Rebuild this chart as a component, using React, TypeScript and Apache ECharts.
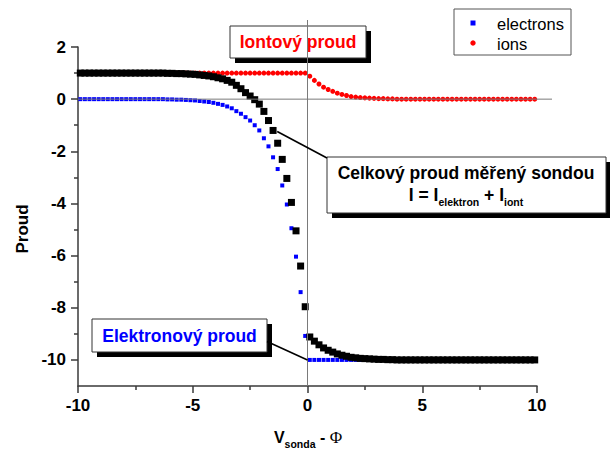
import React, { useEffect, useRef } from "react";
import * as echarts from "echarts";

// probe voltage samples (V_sonda - Φ)
const xValues: number[] = [
  -9.9, -9.7, -9.5, -9.3, -9.1, -8.9, -8.7, -8.5, -8.3, -8.1,
  -7.9, -7.7, -7.5, -7.3, -7.1, -6.9, -6.7, -6.5, -6.3, -6.1,
  -5.9, -5.7, -5.5, -5.3, -5.1, -4.9, -4.7, -4.5, -4.3, -4.1,
  -3.9, -3.7, -3.5, -3.3, -3.1, -2.9, -2.7, -2.5, -2.3, -2.1,
  -1.9, -1.7, -1.5, -1.3, -1.1, -0.9, -0.7, -0.5, -0.3, -0.1,
  0.1, 0.3, 0.5, 0.7, 0.9, 1.1, 1.3, 1.5, 1.7, 1.9,
  2.1, 2.3, 2.5, 2.7, 2.9, 3.1, 3.3, 3.5, 3.7, 3.9,
  4.1, 4.3, 4.5, 4.7, 4.9, 5.1, 5.3, 5.5, 5.7, 5.9,
  6.1, 6.3, 6.5, 6.7, 6.9, 7.1, 7.3, 7.5, 7.7, 7.9,
  8.1, 8.3, 8.5, 8.7, 8.9, 9.1, 9.3, 9.5, 9.7, 9.9,
];

const electrons: number[] = [
  0, 0, 0, 0, 0, 0, 0, 0, 0, 0,
  0, 0, 0, 0, 0, 0, 0, 0, 0, -0.01,
  -0.01, -0.02, -0.02, -0.03, -0.04, -0.05, -0.07, -0.09, -0.11, -0.14,
  -0.18, -0.22, -0.28, -0.35, -0.46, -0.56, -0.69, -0.82, -1.0, -1.2,
  -1.5, -1.81, -2.23, -2.68, -3.31, -4.04, -4.95, -6.04, -7.4, -9.08,
  -10, -10, -10, -10, -10, -10, -10, -10, -10, -10,
  -10, -10, -10, -10, -10, -10, -10, -10, -10, -10,
  -10, -10, -10, -10, -10, -10, -10, -10, -10, -10,
  -10, -10, -10, -10, -10, -10, -10, -10, -10, -10,
  -10, -10, -10, -10, -10, -10, -10, -10, -10, -10,
];

const ions: number[] = [
  1, 1, 1, 1, 1, 1, 1, 1, 1, 1,
  1, 1, 1, 1, 1, 1, 1, 1, 1, 1,
  1, 1, 1, 1, 1, 1, 1, 1, 1, 1,
  1, 1, 1, 1, 1, 1, 1, 1, 1, 1,
  1, 1, 1, 1, 1, 1, 1, 1, 1, 1,
  0.88, 0.72, 0.58, 0.46, 0.37, 0.3, 0.23, 0.18, 0.14, 0.1,
  0.08, 0.06, 0.05, 0.04, 0.03, 0.02, 0.02, 0.01, 0.01, 0,
  0, 0, 0, 0, 0, 0, 0, 0, 0, 0,
  0, 0, 0, 0, 0, 0, 0, 0, 0, 0,
  0, 0, 0, 0, 0, 0, 0, 0, 0, 0,
];

const total: number[] = [
  1, 1, 1, 1, 1, 1, 1, 1, 1, 1,
  1, 1, 1, 1, 1, 1, 1, 1, 1, 0.99,
  0.99, 0.98, 0.98, 0.97, 0.96, 0.95, 0.93, 0.91, 0.89, 0.86,
  0.82, 0.78, 0.72, 0.65, 0.53, 0.4, 0.25, 0.12, -0.02, -0.19,
  -0.47, -0.82, -1.2, -1.69, -2.31, -3.04, -3.96, -5.05, -6.4, -7.96,
  -9.12, -9.28, -9.42, -9.54, -9.63, -9.7, -9.77, -9.82, -9.86, -9.9,
  -9.92, -9.94, -9.95, -9.96, -9.97, -9.98, -9.98, -9.99, -9.99, -10,
  -10, -10, -10, -10, -10, -10, -10, -10, -10, -10,
  -10, -10, -10, -10, -10, -10, -10, -10, -10, -10,
  -10, -10, -10, -10, -10, -10, -10, -10, -10, -10,
];

const seriesNames = ["electrons", "ions", "total"];
const yMajorTicks = [-10, -8, -6, -4, -2, 0, 2];
const yMinorTicks = [-9, -7, -5, -3, -1, 1];
const labelIon = "Iontový proud";
const labelElectron = "Elektronový proud";
const labelTotal = "Celkový proud měřený sondou";
const yTitle = "Proud";

const FONT = "'Liberation Sans', Arial, Helvetica, sans-serif";
const AXIS = "#3a3a3a";

function boxWithShadow(x: number, y: number, w: number, h: number, off: number) {
  return [
    { type: "rect", shape: { x: x + off, y: y + off, width: w, height: h }, style: { fill: "#000" } },
    { type: "rect", shape: { x, y, width: w, height: h }, style: { fill: "#fff", stroke: "#333", lineWidth: 1 } },
  ];
}

function txt(x: number, y: number, text: string, extra: any) {
  return {
    type: "text",
    x,
    y,
    style: Object.assign(
      {
        text,
        fontFamily: FONT,
        align: "center",
        verticalAlign: "middle",
        textAlign: "center",
        textVerticalAlign: "middle",
      },
      extra
    ),
  };
}

export default function App() {
  const ref = useRef<HTMLDivElement>(null);
  useEffect(() => {
    const chart = echarts.init(ref.current!, null, { renderer: "svg" });
    const pair = (ys: number[]) => xValues.map((x, i) => [x, ys[i]]);
    const lineStyle = { color: AXIS, width: 1.5 };
    chart.setOption({
      animation: false,
      backgroundColor: "#fff",
      grid: { left: 78, right: 73, top: 47, bottom: 63, outerBoundsMode: "none" },
      xAxis: {
        type: "value",
        min: -10,
        max: 10,
        interval: 5,
        axisLine: { show: true, onZero: false, lineStyle },
        axisTick: { show: true, length: 7, lineStyle },
        minorTick: { show: true, splitNumber: 2, length: 4, lineStyle },
        splitLine: { show: false },
        axisLabel: { color: "#000", fontSize: 17, fontWeight: "bold", fontFamily: FONT, margin: 11 },
      },
      yAxis: [
        {
          type: "value",
          min: -11,
          max: 2,
          interval: 1,
          position: "left",
          axisLine: { show: true, onZero: false, lineStyle },
          axisTick: { show: true, length: 7, lineStyle, customValues: yMajorTicks },
          splitLine: { show: false },
          axisLabel: {
            color: "#000",
            fontSize: 17,
            fontWeight: "bold",
            fontFamily: FONT,
            margin: 12,
            customValues: yMajorTicks,
          },
        },
        {
          type: "value",
          min: -11,
          max: 2,
          interval: 1,
          position: "left",
          axisLine: { show: false, onZero: false },
          axisTick: { show: true, length: 4, lineStyle, customValues: yMinorTicks },
          axisLabel: { show: false },
          splitLine: { show: false },
        },
      ],
      series: [
        {
          name: seriesNames[1],
          type: "scatter",
          symbol: "circle",
          symbolSize: 5,
          itemStyle: { color: "#ff0000", opacity: 1 },
          data: pair(ions),
        },
        {
          name: seriesNames[0],
          type: "scatter",
          symbol: "rect",
          symbolSize: 4,
          itemStyle: { color: "#0000ff", opacity: 1 },
          data: pair(electrons),
        },
        {
          name: seriesNames[2],
          type: "scatter",
          symbol: "rect",
          symbolSize: 7,
          itemStyle: { color: "#000000", opacity: 1 },
          data: pair(total),
        },
      ],
    });

    const px = (x: number, y: number) =>
      chart.convertToPixel({ xAxisIndex: 0, yAxisIndex: 0 }, [x, y]) as number[];
    const origin = px(0, 0);
    const bottomLeft = px(-10, -11);
    const rightEnd = px(10, 0);
    const tipTotal = px(-1.32, -1.24);
    const tipElectron = px(0, -10);

    const mainRich = {
      m: { fontSize: 17.5, fontWeight: "bold", fontFamily: FONT, fill: "#000", lineHeight: 24, verticalAlign: "middle" },
      s: { fontSize: 10.5, fontWeight: "bold", fontFamily: FONT, fill: "#000", lineHeight: 9, verticalAlign: "bottom" },
    };
    const xRich = {
      v: { fontSize: 16, fontWeight: "bold", fontFamily: FONT, fill: "#000", lineHeight: 24, verticalAlign: "middle" },
      s: { fontSize: 10.5, fontWeight: "bold", fontFamily: FONT, fill: "#000", lineHeight: 7, verticalAlign: "bottom" },
      p: { fontSize: 17, fontFamily: "'Liberation Serif', 'DejaVu Serif', serif", fill: "#000", lineHeight: 24, verticalAlign: "middle" },
    };

    const graphic: any[] = [
      // reference lines through the origin
      {
        type: "line",
        shape: { x1: origin[0], y1: 20, x2: origin[0], y2: bottomLeft[1] },
        style: { stroke: "#7a7a7a", lineWidth: 1 },
        z: 5,
      },
      {
        type: "line",
        shape: { x1: bottomLeft[0], y1: origin[1], x2: rightEnd[0] + 15, y2: origin[1] },
        style: { stroke: "#7a7a7a", lineWidth: 1 },
        z: 5,
      },
      // Iontový proud box
      ...boxWithShadow(230, 26, 136, 32, 5),
      txt(298, 42, labelIon, { fill: "#ff0000", fontSize: 17.5, fontWeight: "bold" }),
      // Celkový proud box
      ...boxWithShadow(327, 157, 279, 56, 5),
      txt(466, 173, labelTotal, { fill: "#000", fontSize: 17.5, fontWeight: "bold" }),
      txt(466, 195, "{m|I = I}{s|elektron}{m| + I}{s|iont}", { rich: mainRich }),
      // Elektronový proud box
      ...boxWithShadow(92, 319, 175, 33, 5),
      txt(179.5, 336, labelElectron, { fill: "#0000ff", fontSize: 17.5, fontWeight: "bold" }),
      // leader lines
      {
        type: "line",
        shape: { x1: tipTotal[0], y1: tipTotal[1], x2: 327, y2: 158 },
        style: { stroke: "#000", lineWidth: 1.6 },
        z: 6,
      },
      {
        type: "line",
        shape: { x1: 267, y1: 341.5, x2: tipElectron[0], y2: tipElectron[1] },
        style: { stroke: "#000", lineWidth: 1.6 },
        z: 6,
      },
      // legend
      { type: "rect", shape: { x: 454, y: 9, width: 117, height: 46 }, style: { fill: "#fff", stroke: "#555", lineWidth: 1 } },
      { type: "rect", shape: { x: 470.5, y: 20.5, width: 5, height: 5 }, style: { fill: "#0000ff" } },
      { type: "circle", shape: { cx: 473, cy: 43, r: 2.7 }, style: { fill: "#ff0000" } },
      {
        type: "text",
        x: 497,
        y: 23.5,
        style: { text: seriesNames[0], fontFamily: FONT, fontSize: 16.5, fill: "#000", align: "left", verticalAlign: "middle", textAlign: "left", textVerticalAlign: "middle" },
      },
      {
        type: "text",
        x: 497,
        y: 43.5,
        style: { text: seriesNames[1], fontFamily: FONT, fontSize: 16.5, fill: "#000", align: "left", verticalAlign: "middle", textAlign: "left", textVerticalAlign: "middle" },
      },
      // axis titles
      {
        type: "text",
        x: 22,
        y: 229,
        rotation: Math.PI / 2,
        style: { text: yTitle, fontFamily: FONT, fontSize: 17, fontWeight: "bold", fill: "#000", align: "center", verticalAlign: "middle", textAlign: "center", textVerticalAlign: "middle" },
      },
      txt(308, 437, "{v|V}{s|sonda}{v| - }{p|Φ}", { rich: xRich }),
    ];
    chart.setOption({ graphic });

    return () => chart.dispose();
  }, []);
  return (
    <div
      ref={ref}
      style={{ position: "absolute", left: 0, top: 0, width: 610, height: 449 }}
    />
  );
}
